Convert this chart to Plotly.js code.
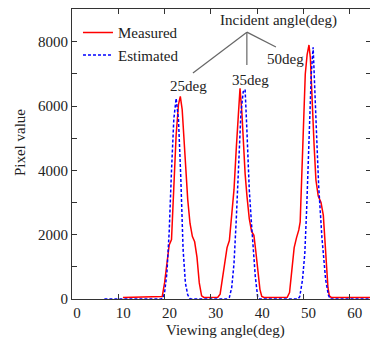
<!DOCTYPE html>
<html>
<head>
<meta charset="utf-8">
<script src="https://cdn.plot.ly/plotly-3.0.1.min.js"></script>
<style>
html,body{margin:0;padding:0;overflow:hidden;background:#fff;}
#chart{width:372px;height:341px;}
</style>
</head>
<body>
<div id="chart"></div>
<script>
// Measured (red, solid)
const measuredX = [11, 15, 19, 19.5, 20.0, 20.5, 21.0, 21.5, 22.0, 22.5, 23.0, 23.4, 23.8, 24.2, 24.6, 25.0, 25.5, 26.0, 26.5, 27.0, 27.5, 28.0, 28.5,
  31.5, 32.0, 32.5, 33.0, 33.5, 34.0, 34.5, 35.0, 35.5, 36.0, 36.3, 36.7, 37.0, 37.4, 37.8, 38.3, 38.8, 39.3, 39.7, 40.2, 40.6, 41.0, 41.5,
  46.5, 47.0, 47.5, 48.0, 48.5, 49.0, 49.3, 49.6, 50.0, 50.4, 50.8, 51.2, 51.5, 51.9, 52.3, 52.7, 53.2, 53.8, 54.3, 54.7, 55.0, 55.3, 55.6, 56.0, 64.6];
const measuredY = [50, 55, 60, 80, 500, 1200, 1680, 1850, 3400, 5100, 6050, 6300, 5900, 4900, 3900, 3100, 2350, 1950, 1780, 1300, 500, 100, 50,
  55, 150, 600, 1100, 1600, 1820, 2500, 3400, 4700, 5800, 6550, 5800, 4900, 3900, 3200, 2500, 2100, 1980, 1500, 900, 300, 80, 50,
  55, 200, 900, 1600, 1900, 2150, 2400, 3600, 5800, 7000, 7600, 7900, 7500, 6000, 4800, 3700, 3200, 3000, 2600, 1700, 900, 350, 100, 50, 50];

// Estimated (blue, dotted)
const estimatedX = [7, 19.3, 19.7, 20.0, 20.5, 21.0, 21.5, 22.0, 22.5, 23.0, 23.5, 24.0, 24.5, 25.0, 25.5, 26.0,
  33.5, 34.0, 34.5, 35.0, 35.5, 36.0, 36.5, 37.0, 37.4, 37.8, 38.3, 38.8, 39.2, 39.6, 40.1, 40.5,
  48.8, 49.2, 49.8, 50.3, 50.7, 51.0, 51.3, 51.7, 52.1, 52.5, 52.9, 53.3, 53.6, 54.0, 54.3, 54.8, 55.4, 55.8, 64.6];
const estimatedY = [0, 0, 30, 200, 800, 2100, 4000, 5600, 6240, 5600, 3800, 1550, 500, 130, 10, 0,
  0, 50, 350, 1100, 2500, 4300, 5800, 6450, 6520, 5200, 3400, 2300, 1500, 700, 80, 0,
  0, 70, 600, 1420, 2800, 4000, 5300, 7000, 7830, 6600, 4900, 3500, 2670, 1900, 1420, 600, 120, 0, 0];

const seriesNames = ["Measured", "Estimated"];
const xTickVals = [0, 10, 20, 30, 40, 50, 60];
const yTickVals = [0, 2000, 4000, 6000, 8000];
const angleLabels = ["25deg", "35deg", "50deg"];

const FONT = "Liberation Serif, Times New Roman, serif";
const TXT = "#222";

const traces = [
  {x: measuredX, y: measuredY, name: seriesNames[0], type: "scatter", mode: "lines",
   line: {color: "rgb(255,0,0)", width: 1.5}},
  {x: estimatedX, y: estimatedY, name: seriesNames[1], type: "scatter", mode: "lines",
   line: {color: "rgb(0,0,255)", width: 1.5, dash: "3px,2px"}}
];

const annFont = {family: FONT, size: 15, color: TXT};
const layout = {
  width: 372, height: 341,
  margin: {l: 72, r: 1, t: 9, b: 42},
  paper_bgcolor: "#fff", plot_bgcolor: "#fff",
  showlegend: true,
  legend: {x: 0.02, y: 0.975, xanchor: "left", yanchor: "top", bgcolor: "rgba(0,0,0,0)",
    font: {family: FONT, size: 15, color: TXT}, tracegroupgap: 0},
  xaxis: {range: [0, 64.6], tickvals: xTickVals, ticks: "inside", ticklen: 5, tickcolor: "#333",
    mirror: "ticks", showline: true, linecolor: "#333", linewidth: 1, showgrid: false, zeroline: false,
    tickfont: {family: FONT, size: 15, color: TXT}, ticklabelshift: 5},
  yaxis: {range: [0, 9020], tickvals: yTickVals, tickformat: "d", ticks: "inside", ticklen: 5, tickcolor: "#333",
    minor: {dtick: 1000, tick0: 0, ticks: "inside", ticklen: 5, tickcolor: "#333", showgrid: false},
    mirror: "ticks", showline: true, linecolor: "#333", linewidth: 1, showgrid: false, zeroline: false,
    tickfont: {family: FONT, size: 15, color: TXT}},
  annotations: [
    {text: "Incident angle(deg)", x: 44.6, y: 8677, xref: "x", yref: "y", showarrow: false, font: annFont, xanchor: "center", yanchor: "middle"},
    {text: angleLabels[0], x: 25.16, y: 6624, xref: "x", yref: "y", showarrow: false, font: annFont, xanchor: "center", yanchor: "middle"},
    {text: angleLabels[1], x: 38.66, y: 6811, xref: "x", yref: "y", showarrow: false, font: annFont, xanchor: "center", yanchor: "middle"},
    {text: angleLabels[2], x: 46.22, y: 7480, xref: "x", yref: "y", showarrow: false, font: annFont, xanchor: "center", yanchor: "middle"},
    {text: "Pixel value", x: -0.174, y: 0.541, xref: "paper", yref: "paper", showarrow: false, textangle: -90, font: annFont, xanchor: "center", yanchor: "middle"},
    {text: "Viewing angle(deg)", x: 0.512, y: -0.107, xref: "paper", yref: "paper", showarrow: false, font: annFont, xanchor: "center", yanchor: "middle"}
  ],
  shapes: [
    {type: "line", xref: "x", yref: "y", x0: 37.78, y0: 8300, x1: 26.13, y1: 7030, line: {color: "#666", width: 1.2}},
    {type: "line", xref: "x", yref: "y", x0: 37.78, y0: 8300, x1: 37.78, y1: 7280, line: {color: "#666", width: 1.2}},
    {type: "line", xref: "x", yref: "y", x0: 37.78, y0: 8300, x1: 44.06, y1: 7840, line: {color: "#666", width: 1.2}}
  ]
};

Plotly.newPlot("chart", traces, layout, {staticPlot: true, displayModeBar: false});
</script>
</body>
</html>
